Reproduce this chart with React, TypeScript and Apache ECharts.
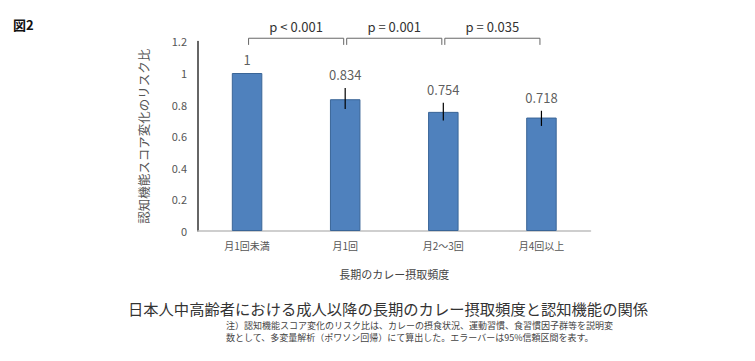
import React, { useEffect, useRef } from "react";
import * as echarts from "echarts";

const categories = ["月1回未満", "月1回", "月2～3回", "月4回以上"];
const riskRatio = [1, 0.834, 0.754, 0.718];
const ciLow = [null, 0.772, 0.7, 0.665];
const ciHigh = [null, 0.905, 0.812, 0.761];
const pValues = ["p < 0.001", "p = 0.001", "p = 0.035"];
const yTicks = [0, 0.2, 0.4, 0.6, 0.8, 1, 1.2];

const FONT = "'Noto Sans CJK JP', 'Noto Sans', sans-serif";

export default function App() {
  const ref = useRef<HTMLDivElement>(null);
  useEffect(() => {
    if (!ref.current) return;
    const chart = echarts.init(ref.current, undefined, { renderer: "svg" });

    const errData = riskRatio
      .map((v, i) => (ciLow[i] == null ? null : [i, ciLow[i], ciHigh[i]]))
      .filter((d) => d !== null);
    const labelData = riskRatio.map((v, i) => [i, ciHigh[i] == null ? v : (ciHigh[i] as number), v]);
    const bracketData = pValues.map((p, i) => [i, i + 1, p]);

    chart.setOption({
      animation: false,
      textStyle: { fontFamily: FONT },
      grid: { left: 198, right: 164.5, top: 41.4, bottom: 130, containLabel: false },
      title: [
        { text: "図2", left: 8, top: 13, textStyle: { fontSize: 13, fontWeight: "bold", color: "#111", fontFamily: FONT } },
        {
          text: "日本人中高齢者における成人以降の長期のカレー摂取頻度と認知機能の関係",
          left: 383, top: 295, textAlign: "center",
          textStyle: { fontSize: 15.3, fontWeight: "normal", color: "#333", fontFamily: FONT },
        },
      ],
      graphic: [
        {
          type: "text", right: 142, top: 319,
          style: {
            text: "注）認知機能スコア変化のリスク比は、カレーの摂食状況、運動習慣、食習慣因子群等を説明変\n数として、多変量解析（ポワソン回帰）にて算出した。エラーバーは95%信頼区間を表す。",
            fontSize: 9, fill: "#444", fontFamily: FONT, align: "right", lineHeight: 12,
          },
        },
      ],
      xAxis: {
        type: "category",
        data: categories,
        name: "長期のカレー摂取頻度",
        nameLocation: "middle",
        nameGap: 37,
        nameTextStyle: { fontSize: 11, color: "#444" },
        axisLine: { lineStyle: { color: "#bfbfbf", width: 1.5 } },
        axisTick: { show: false },
        axisLabel: { fontSize: 10, color: "#555", margin: 9 },
      },
      yAxis: {
        type: "value",
        min: 0,
        max: 1.2,
        interval: 0.2,
        name: "認知機能スコア変化のリスク比",
        nameLocation: "middle",
        nameRotate: 90,
        nameGap: 48,
        nameTextStyle: { fontSize: 12.5, color: "#555" },
        axisLine: { show: true, lineStyle: { color: "#333", width: 1.5 } },
        axisTick: { show: false },
        splitLine: { show: false },
        axisLabel: {
          fontSize: 11, color: "#555", margin: 11,
          formatter: (v: number) => {
            const t = yTicks.find((x) => Math.abs(x - v) < 1e-9);
            return t === undefined ? "" : String(t);
          },
        },
      },
      series: [
        {
          type: "bar",
          data: riskRatio,
          barWidth: 30.5,
          itemStyle: { color: "#4f81bd", borderColor: "#3a6597", borderWidth: 1 },
          z: 2,
        },
        {
          type: "custom",
          data: errData,
          z: 5,
          renderItem: (params: any, api: any) => {
            const x = api.value(0);
            const lo = api.coord([x, api.value(1)]);
            const hi = api.coord([x, api.value(2)]);
            return {
              type: "line",
              shape: { x1: lo[0], y1: lo[1], x2: hi[0], y2: hi[1] },
              style: { stroke: "#000", lineWidth: 1.2 },
            };
          },
        },
        {
          type: "scatter",
          data: labelData,
          symbolSize: 0,
          z: 6,
          label: {
            show: true,
            position: "top",
            distance: 7,
            fontSize: 13,
            color: "#333",
            formatter: (p: any) => String(p.value[2]),
          },
        },
        {
          type: "custom",
          data: bracketData,
          clip: false,
          z: 6,
          renderItem: (params: any, api: any) => {
            const a = api.coord([api.value(0), 1.22]);
            const b = api.coord([api.value(1), 1.22]);
            const c = api.coord([api.value(0), 1.178]);
            const x1 = a[0] + 1.5;
            const x2 = b[0] - 1.5;
            const y = a[1];
            const yd = c[1];
            return {
              type: "group",
              children: [
                { type: "polyline", shape: { points: [[x1, yd], [x1, y], [x2, y], [x2, yd]] }, style: { stroke: "#666", lineWidth: 1, fill: null } },
                {
                  type: "text",
                  style: { text: bracketData[params.dataIndex][2], x: (x1 + x2) / 2, y: y - 5, align: "center", verticalAlign: "bottom", fontSize: 13, fill: "#333", fontFamily: FONT },
                },
              ],
            };
          },
        },
      ],
    });
    return () => chart.dispose();
  }, []);
  return <div ref={ref} style={{ width: 755, height: 361, position: "absolute", left: 0, top: 0 }} />;
}
